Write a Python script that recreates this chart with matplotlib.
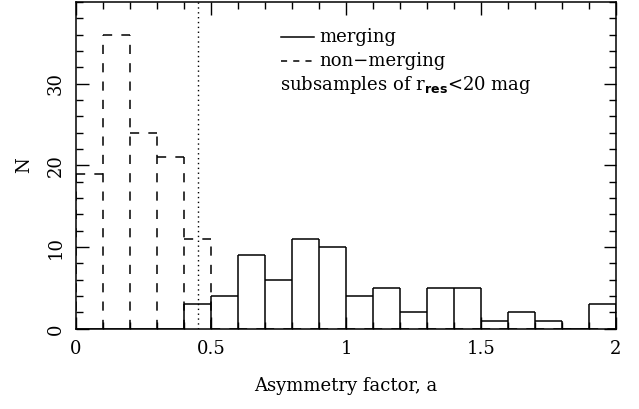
import numpy as np
import matplotlib
matplotlib.use('Agg')
import matplotlib.pyplot as plt
from matplotlib.ticker import MultipleLocator

plt.rcParams['font.family'] = 'DejaVu Serif'

# histogram bins (width 0.1) from 0 to 2
bin_edges = np.round(np.arange(0, 2.01, 0.1), 2)
merging = [0, 0, 0, 0, 3, 4, 9, 6, 11, 10, 4, 5, 2, 5, 5, 1, 2, 1, 0, 3]
non_merging = [19, 36, 24, 21, 11, 0, 0, 0, 0, 0, 0, 0, 0, 0, 0, 0, 0, 0, 0, 0]
cut_value = 0.45


def hist_outline(ax, counts, edges, ls):
    """Draw a histogram as bar outlines, every edge dropping to zero."""
    c = np.concatenate([[0], counts, [0]])
    edge_h = np.maximum(c[:-1], c[1:])
    keep = edge_h > 0
    ax.vlines(edges[keep], 0, edge_h[keep], colors='black', lw=1.1, linestyles=[ls])
    ax.hlines(counts, edges[:-1], edges[1:], colors='black', lw=1.1, linestyles=[ls])


fig = plt.figure(figsize=(6.39, 4.09), dpi=100)
ax = fig.add_axes([0.119, 0.196, 0.845, 0.799])

hist_outline(ax, np.array(non_merging), bin_edges, (0, (6, 6)))
hist_outline(ax, np.array(merging), bin_edges, 'solid')
ax.axvline(cut_value, color='black', lw=1.0, linestyle=(0, (1, 2.5)))

ax.set_xlim(0, 2)
ax.set_ylim(0, 40)
ax.xaxis.set_minor_locator(MultipleLocator(0.1))
ax.yaxis.set_minor_locator(MultipleLocator(2))
ax.set_xticks([0, 0.5, 1, 1.5, 2])
ax.set_xticklabels(['0', '0.5', '1', '1.5', '2'])
ax.set_yticks([0, 10, 20, 30])
ax.tick_params(which='both', direction='in', top=True, right=True, labelsize=13, pad=8)
ax.tick_params(which='major', length=9, width=1)
ax.tick_params(which='minor', length=5, width=1)
for lab in ax.get_yticklabels():
    lab.set_rotation(90)
    lab.set_va('center')
for sp in ax.spines.values():
    sp.set_linewidth(1.1)
    sp.set_zorder(5)

ax.set_xlabel('Asymmetry factor, a', fontsize=13, labelpad=14)
ax.set_ylabel('N', fontsize=13, labelpad=10)

# legend drawn by hand
ax.plot([0.76, 0.88], [35.7, 35.7], color='black', lw=1.1)
ax.text(0.9, 35.7, 'merging', fontsize=13, va='center')
ax.plot([0.76, 0.88], [32.8, 32.8], color='black', lw=1.1, linestyle=(0, (4, 4)))
ax.text(0.9, 32.8, 'non\u2212merging', fontsize=13, va='center')
ax.text(0.755, 29.8, r'subsamples of r$_{\mathbf{res}}$<20 mag', fontsize=13, va='center')

fig.savefig('out.png', dpi=100)
